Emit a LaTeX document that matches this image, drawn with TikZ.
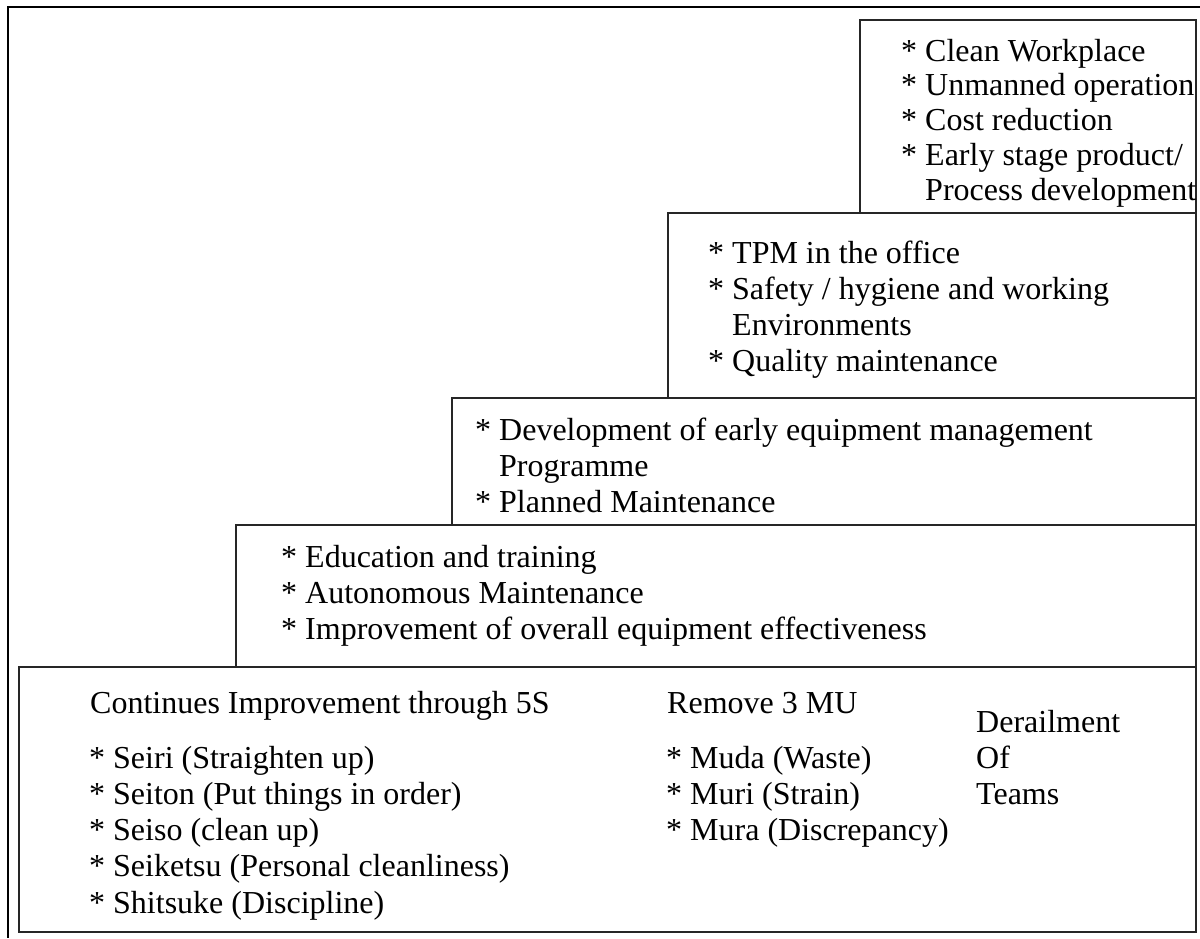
\documentclass[tikz,border=0pt]{standalone}
\usepackage{fontspec}
\setmainfont{Liberation Serif}
\newcommand{\bulit}{{*}\ }
\newcommand{\nobul}{\hphantom{*\ }}
\begin{document}
\begin{tikzpicture}[x=1pt,y=-1pt,
  stepbox/.style={draw=black!85, line width=1.4pt},
  frame/.style={draw=black, line width=2.3pt},
  txt/.style={anchor=base west, inner sep=0pt, font=\fontsize{32}{36.3}\selectfont},
  txtb/.style={anchor=base west, inner sep=0pt, font=\fontsize{32}{34.8}\selectfont}]
\useasboundingbox (0,0) rectangle (1200,938);
\renewcommand{\arraystretch}{1}
% outer frame
\coordinate (ftl) at (8,7);
\coordinate (ftr) at (1200,7);
\coordinate (fbl) at (8,938);
\draw[frame] (ftr) -- (ftl) -- (fbl);
% step boxes
\draw[stepbox] (19,667) rectangle (1196,932);
\draw[stepbox] (236,525) rectangle (1196,667);
\draw[stepbox] (452,398) rectangle (1196,525);
\draw[stepbox] (668,213) rectangle (1196,398);
\draw[stepbox] (860,20) rectangle (1196,213);
% box 1
\node[txtb] (b1) at (901,61) {\begin{tabular}[t]{@{}l@{}}
\bulit Clean Workplace\\
\bulit Unmanned operation\\
\bulit Cost reduction\\
\bulit Early stage product/\\
\nobul Process development
\end{tabular}};
% box 2
\node[txt] (b2) at (708,263) {\begin{tabular}[t]{@{}l@{}}
\bulit TPM in the office\\
\bulit Safety / hygiene and working\\
\nobul Environments\\
\bulit Quality maintenance
\end{tabular}};
% box 3
\node[txt] (b3) at (475,440) {\begin{tabular}[t]{@{}l@{}}
\bulit Development of early equipment management\\
\nobul Programme\\
\bulit Planned Maintenance
\end{tabular}};
% box 4
\node[txt] (b4) at (281,567) {\begin{tabular}[t]{@{}l@{}}
\bulit Education and training\\
\bulit Autonomous Maintenance\\
\bulit Improvement of overall equipment effectiveness
\end{tabular}};
% box 5
\node[txt] (h5a) at (90,713) {Continues Improvement through 5S};
\node[txt] (l5a) at (89,768) {\begin{tabular}[t]{@{}l@{}}
\bulit Seiri (Straighten up)\\
\bulit Seiton (Put things in order)\\
\bulit Seiso (clean up)\\
\bulit Seiketsu (Personal cleanliness)\\
\bulit Shitsuke (Discipline)
\end{tabular}};
\node[txt] (h5b) at (667,713) {Remove 3 MU};
\node[txt] (l5b) at (666,768) {\begin{tabular}[t]{@{}l@{}}
\bulit Muda (Waste)\\
\bulit Muri (Strain)\\
\bulit Mura (Discrepancy)
\end{tabular}};
\node[txt] (l5c) at (976,732) {\begin{tabular}[t]{@{}l@{}}
Derailment\\
Of\\
Teams
\end{tabular}};
\end{tikzpicture}
\end{document}
